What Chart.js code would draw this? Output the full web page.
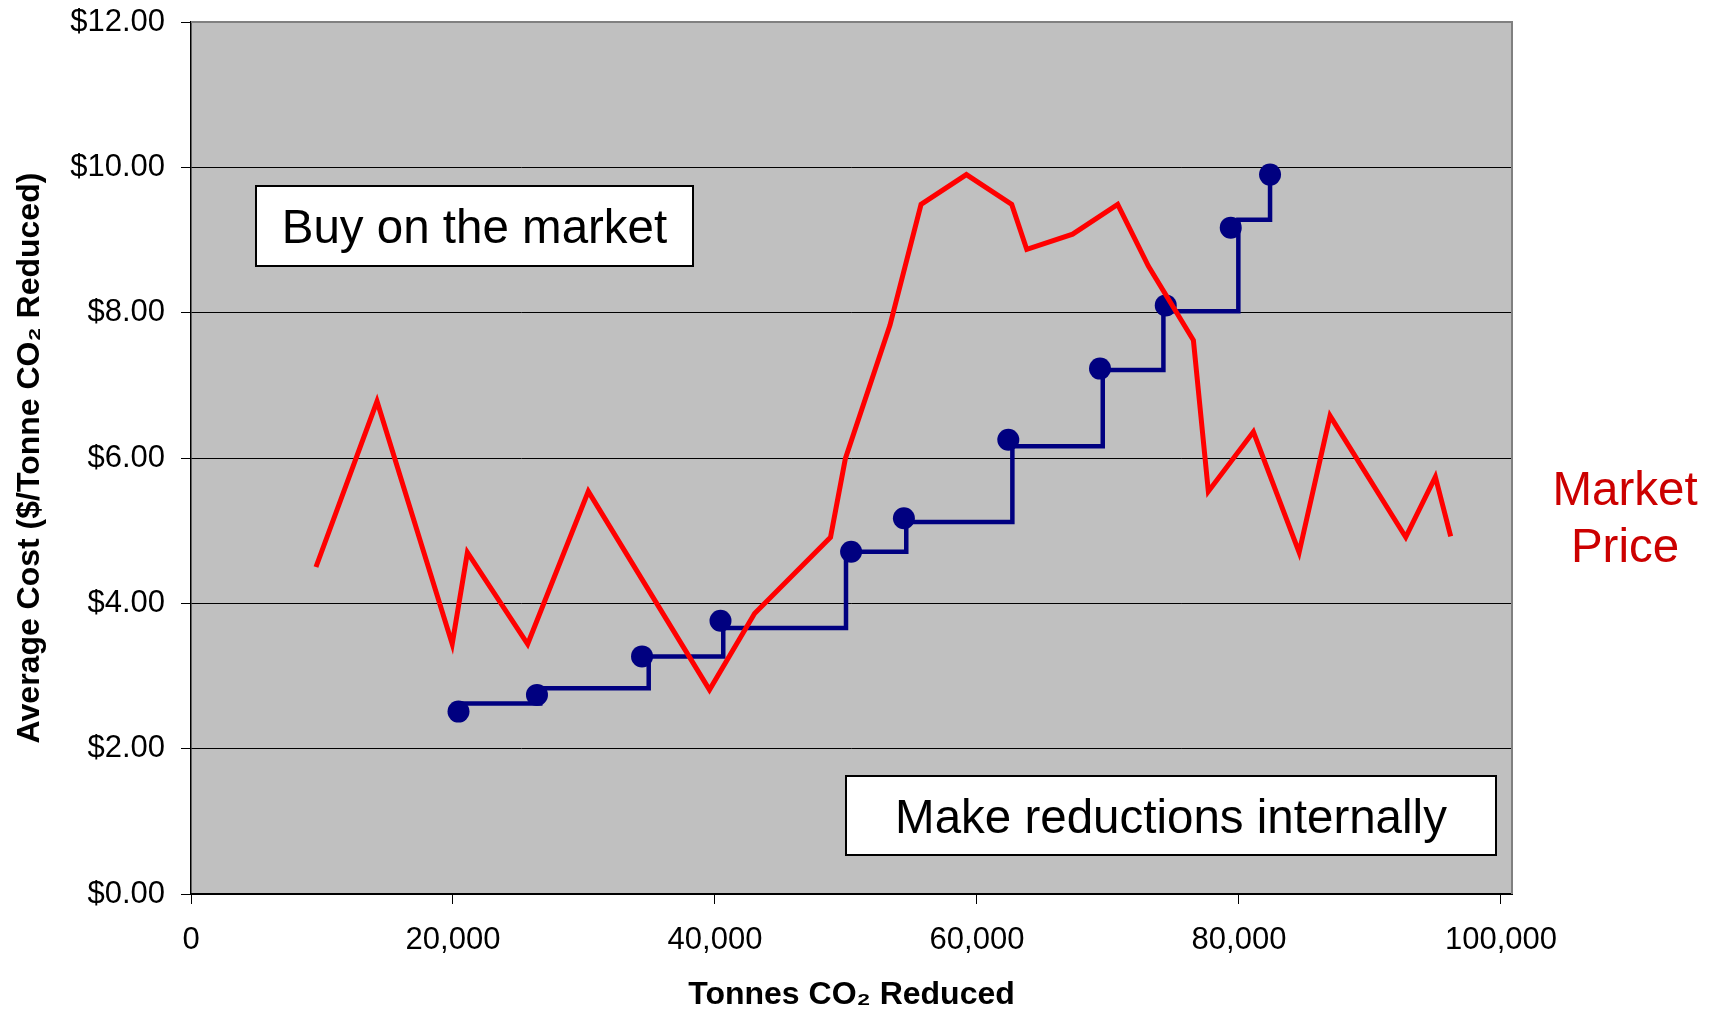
<!DOCTYPE html>
<html>
<head>
<meta charset="utf-8">
<script src="https://cdn.jsdelivr.net/npm/chart.js@4.4.0/dist/chart.umd.min.js"></script>
<style>
  html, body { margin: 0; padding: 0; background: #fff; }
</style>
</head>
<body>
<canvas id="cost-chart" width="1715" height="1011"></canvas>
<script>
// market price line (tonnes, $/tonne)
const marketX = [9540, 14200, 19940, 21100, 25700, 30330, 39580, 43020, 48820, 49950, 53360, 55730, 59190, 62650, 63800, 67300, 70740, 73080, 76520, 77660, 81100, 84590, 86950, 92730, 94990, 96160];
const marketY = [4.50, 6.78, 3.44, 4.70, 3.44, 5.54, 2.81, 3.86, 4.91, 5.99, 7.83, 9.49, 9.90, 9.49, 8.87, 9.08, 9.49, 8.64, 7.62, 5.54, 6.36, 4.70, 6.58, 4.91, 5.74, 4.92];

// internal reduction projects (dots)
const costX = [20420, 26410, 34430, 40420, 50390, 54420, 62390, 69390, 74410, 79370, 82370];
const costY = [2.51, 2.74, 3.27, 3.76, 4.71, 5.17, 6.25, 7.23, 8.10, 9.17, 9.90];

// step line drawn under the dots
const stepX = [20420, 26660, 34940, 40630, 50000, 54600, 62700, 69600, 74230, 79950, 82370];
const stepY = [2.62, 2.83, 3.27, 3.66, 4.71, 5.12, 6.16, 7.21, 8.02, 9.28, 9.90];

const xTicks = [0, 20000, 40000, 60000, 80000, 100000];
const yTicks = [0, 2, 4, 6, 8, 10, 12];

const notes = [
    { text: 'Buy on the market', x0: 4960, x1: 38320, y0: 8.64, y1: 9.74 },
    { text: 'Make reductions internally', x0: 49970, x1: 99620, y0: 0.54, y1: 1.62 }
];

const FONT = '"Liberation Sans", Arial, sans-serif';
Chart.defaults.font.family = FONT;
Chart.defaults.color = '#000';

function points(xs, ys) {
    return xs.map((x, i) => ({ x: x, y: ys[i] }));
}

const plotDecor = {
    id: 'plotDecor',
    beforeDraw(chart) {
        const { ctx, chartArea: a } = chart;
        ctx.save();
        ctx.fillStyle = '#c0c0c0';
        ctx.fillRect(a.left, a.top, a.right - a.left, a.bottom - a.top);
        ctx.restore();
    },
    beforeDatasetsDraw(chart) {
        const { ctx, chartArea: a } = chart;
        ctx.save();
        ctx.strokeStyle = '#808080';
        ctx.lineWidth = 2;
        ctx.beginPath();
        ctx.moveTo(a.left, a.top);
        ctx.lineTo(a.right, a.top);
        ctx.lineTo(a.right, a.bottom);
        ctx.stroke();
        ctx.restore();
    },
    afterDraw(chart) {
        const { ctx, chartArea: a } = chart;
        const { x, y } = chart.scales;
        ctx.save();
        ctx.font = '47.5px ' + FONT;
        ctx.textAlign = 'center';
        ctx.textBaseline = 'alphabetic';
        notes.forEach(n => {
            const l = Math.round(x.getPixelForValue(n.x0)), r = Math.round(x.getPixelForValue(n.x1));
            const t = Math.round(y.getPixelForValue(n.y1)), b = Math.round(y.getPixelForValue(n.y0));
            ctx.fillStyle = '#fff';
            ctx.fillRect(l, t, r - l, b - t);
            ctx.strokeStyle = '#000';
            ctx.lineWidth = 2;
            ctx.strokeRect(l, t, r - l, b - t);
            ctx.fillStyle = '#000';
            ctx.fillText(n.text, (l + r) / 2, (t + b) / 2 + 17);
        });
        ctx.fillStyle = '#cc0000';
        ctx.fillText('Market', a.right + 113, a.top + 483);
        ctx.fillText('Price', a.right + 113, a.top + 540);
        ctx.restore();
    }
};

new Chart(document.querySelector('#cost-chart').getContext('2d'), {
    type: 'scatter',
    data: {
        datasets: [
            {
                label: 'Market Price',
                data: points(marketX, marketY),
                showLine: true,
                borderColor: '#ff0000',
                borderWidth: 5,
                pointRadius: 0,
                borderJoinStyle: 'miter'
            },
            {
                label: 'Internal steps',
                data: points(stepX, stepY),
                showLine: true,
                stepped: 'before',
                borderColor: '#000080',
                borderWidth: 4.5,
                pointRadius: 0
            },
            {
                label: 'Internal cost',
                data: points(costX, costY),
                showLine: false,
                pointRadius: 11,
                backgroundColor: '#000080',
                borderColor: '#000080',
                borderWidth: 0
            }
        ]
    },
    options: {
        responsive: false,
        animation: false,
        layout: { padding: { top: 22, right: 203, left: 0, bottom: 0 } },
        plugins: {
            legend: { display: false },
            tooltip: { enabled: false }
        },
        scales: {
            x: {
                type: 'linear',
                min: 0,
                max: 100840,
                afterFit: s => { s.height = 117; s.paddingLeft = 0; s.paddingRight = 0; },
                afterBuildTicks: s => { s.ticks = xTicks.map(v => ({ value: v })); },
                ticks: {
                    maxRotation: 0,
                    autoSkip: false,
                    padding: 18,
                    font: { size: 31 },
                    callback: v => v.toLocaleString('en-US')
                },
                grid: { drawOnChartArea: false, drawTicks: true, tickLength: 10, color: '#000' },
                border: { color: '#000', width: 2 },
                title: {
                    display: true,
                    text: 'Tonnes CO₂ Reduced',
                    font: { size: 32, weight: 'bold' },
                    padding: { top: 0, bottom: -3 }
                }
            },
            y: {
                min: 0,
                max: 12,
                afterFit: s => { s.width = 191; s.paddingTop = 0; s.paddingBottom = 0; },
                afterBuildTicks: s => { s.ticks = yTicks.map(v => ({ value: v })); },
                ticks: {
                    padding: 16,
                    font: { size: 31 },
                    callback: v => '$' + Number(v).toFixed(2)
                },
                grid: {
                    color: c => (c.tick && c.tick.value === 12) ? '#808080' : '#000',
                    tickColor: '#000',
                    tickLength: 10,
                    lineWidth: 1
                },
                border: { color: '#000', width: 1.5 },
                title: {
                    display: true,
                    text: 'Average Cost ($/Tonne CO₂ Reduced)',
                    font: { size: 32, weight: 'bold' },
                    padding: { top: 11, bottom: 0 }
                }
            }
        }
    },
    plugins: [plotDecor]
});
</script>
</body>
</html>
